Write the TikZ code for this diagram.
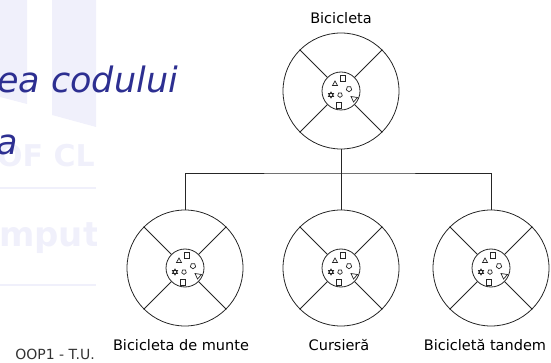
\documentclass[tikz,border=0pt]{standalone}
\usepackage{fontspec}
\setmainfont{DejaVu Sans}
\usetikzlibrary{positioning}

\definecolor{slideblue}{HTML}{2D2F91}
\definecolor{wmark}{HTML}{F0F0FB}
\newcommand{\wheelsize}{116}
\newcommand{\hubsize}{38}
\newcommand{\bary}{173}

% the little parts drawn inside every hub
\newcommand{\hubparts}{%
	\draw (-0.5,-16) rectangle (4.5,-10);
	\draw (-8.5,-5.5) -- (-3.5,-5.5) -- (-6,-10) -- cycle;
	\draw (8,-2) +(90:2.8) -- +(162:2.8) -- +(234:2.8) -- +(306:2.8) -- +(18:2.8) -- cycle;
	\draw (-10,1) -- (-12.6,5.5) -- (-7.4,5.5) -- cycle;
	\draw (-10,7) -- (-12.6,2.5) -- (-7.4,2.5) -- cycle;
	\draw (-1,4) +(90:2.4) -- +(162:2.4) -- +(234:2.4) -- +(306:2.4) -- +(18:2.4) -- cycle;
	\draw (10,5.5) -- (16.5,6.5) -- (12.5,11) -- cycle;
	\draw (-4.5,11) rectangle (0.5,17);
}

\tikzset{
	wheel/.style={circle, draw=black!85, line width=0.8pt, minimum size=\wheelsize pt, inner sep=0pt},
	hub/.style={circle, draw=black!85, line width=0.8pt, minimum size=\hubsize pt, inner sep=0pt},
	part/.style={draw=black!85, line width=0.7pt},
	bikename/.style={font=\fontsize{14.5}{16}\selectfont, anchor=base},
}

\begin{document}
\begin{tikzpicture}[x=1pt,y=-1pt]
	\useasboundingbox (0,0) rectangle (551,363);

	% faded logo behind the title
	\begin{scope}
		\clip (0,0) rectangle (96,300);
		\fill[wmark] (0,0) -- (27,0) -- (27,104) -- (0,97) -- cycle;
		\fill[wmark] (52,0) -- (96,0) -- (96,127) -- (52,115) -- cycle;
		\node[text=wmark, font=\bfseries\fontsize{30}{30}\selectfont, anchor=base west, inner sep=0pt] (wmcluj) at (-3,167) {OF CL};
		\node[text=wmark, font=\bfseries\fontsize{34}{34}\selectfont, anchor=base west, inner sep=0pt] (wmcomp) at (-1,247) {mput};
		\draw[wmark, line width=2pt] (0,188) -- (96,188);
		\draw[wmark, line width=2pt] (0,285) -- (96,285);
	\end{scope}

	\node[text=slideblue, font=\itshape\fontsize{35}{35}\selectfont, anchor=base west, inner sep=0pt] (title) at (-3,93) {ea codului};
	\node[text=slideblue, font=\itshape\fontsize{35}{35}\selectfont, anchor=base west, inner sep=0pt] (title2) at (-4,155) {a};

	\node[wheel] (bicicleta) at (341,91) {};
	\foreach \n/\x in {munte/185,cursiera/341,tandem/491}
	{
		\node[wheel] (\n) at (\x,268) {};
	}

	\foreach \n in {bicicleta,munte,cursiera,tandem}
	{
		\node[hub] (\n-hub) at (\n) {};
		\foreach \a in {45,135,225,315}
		{
			\draw[line width=0.8pt, black!85] (\n.\a) -- (\n-hub.\a);
		}
		\begin{scope}[shift={(\n-hub.center)}, every path/.style={part}]
			\hubparts
		\end{scope}
	}

	\coordinate (bar) at (341,\bary);
	\draw[line width=0.8pt, black!85] (bicicleta.south) -- (cursiera.north);
	\draw[line width=0.8pt, black!85] (munte.north) |- (bar) -| (tandem.north);

	\node[bikename, above=9pt of bicicleta, anchor=base] (bicicleta-name) {Bicicleta};
	\foreach \n/\dx/\t in {munte/-4/Bicicleta de munte,cursiera/-2/Cursieră,tandem/-6/Bicicletă tandem}
	{
		\node[bikename, below=24pt of \n, anchor=base, xshift=\dx pt] (\n-name) {\t};
	}

	\node[font=\fontsize{14}{15}\selectfont, text=black!80, anchor=base] (footer) at (55,359) {OOP1 - T.U.};
\end{tikzpicture}
\end{document}
